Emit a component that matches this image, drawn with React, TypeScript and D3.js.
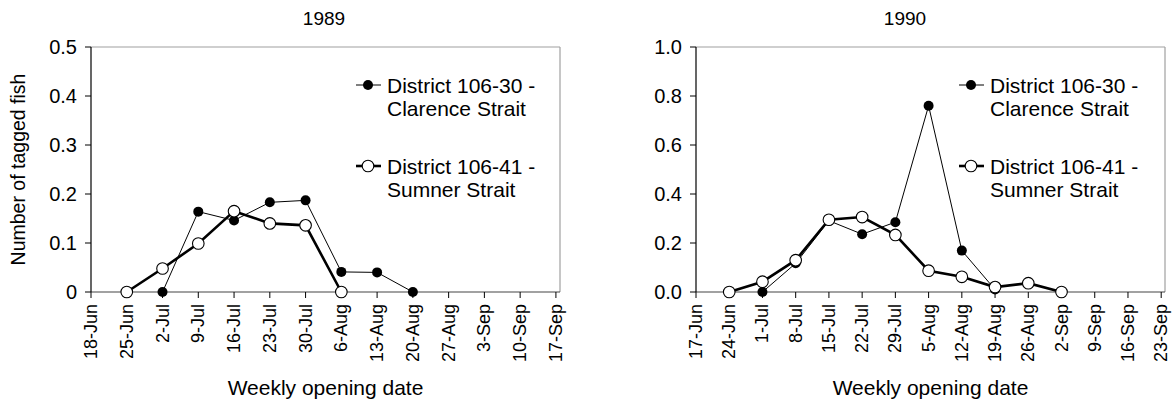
import React from "react";
import * as d3 from "d3";

// ---- Data ----
const ticks1989 = ["1989-06-18","1989-06-25","1989-07-02","1989-07-09","1989-07-16","1989-07-23","1989-07-30","1989-08-06","1989-08-13","1989-08-20","1989-08-27","1989-09-03","1989-09-10","1989-09-17"];
const clarenceDates1989 = ["1989-07-02","1989-07-09","1989-07-16","1989-07-23","1989-07-30","1989-08-06","1989-08-13","1989-08-20"];
const clarenceValues1989 = [0, 0.164, 0.146, 0.183, 0.187, 0.041, 0.040, 0];
const sumnerDates1989 = ["1989-06-25","1989-07-02","1989-07-09","1989-07-16","1989-07-23","1989-07-30","1989-08-06"];
const sumnerValues1989 = [0, 0.048, 0.099, 0.165, 0.140, 0.136, 0];

const ticks1990 = ["1990-06-17","1990-06-24","1990-07-01","1990-07-08","1990-07-15","1990-07-22","1990-07-29","1990-08-05","1990-08-12","1990-08-19","1990-08-26","1990-09-02","1990-09-09","1990-09-16","1990-09-23"];
const clarenceDates1990 = ["1990-07-01","1990-07-08","1990-07-15","1990-07-22","1990-07-29","1990-08-05","1990-08-12","1990-08-19"];
const clarenceValues1990 = [0, 0.117, 0.291, 0.236, 0.285, 0.760, 0.169, 0.010];
const sumnerDates1990 = ["1990-06-24","1990-07-01","1990-07-08","1990-07-15","1990-07-22","1990-07-29","1990-08-05","1990-08-12","1990-08-19","1990-08-26","1990-09-02"];
const sumnerValues1990 = [0, 0.042, 0.130, 0.295, 0.306, 0.233, 0.087, 0.062, 0.020, 0.036, 0];

const yTicks1989 = [0, 0.1, 0.2, 0.3, 0.4, 0.5];
const yTicks1990 = [0, 0.2, 0.4, 0.6, 0.8, 1.0];

const legendLabels = [
  ["District 106-30 -", "Clarence Strait"],
  ["District 106-41 -", "Sumner Strait"],
];

const parse = d3.timeParse("%Y-%m-%d");
const fmt = d3.timeFormat("%-d-%b");
const FONT = "'Liberation Sans', Arial, sans-serif";

type PanelProps = {
  title: string;
  titleX: number;
  left: number;
  right: number;
  ticks: string[];
  yMax: number;
  yTicks: number[];
  yFmt: (v: number) => string;
  cDates: string[];
  cVals: number[];
  sDates: string[];
  sVals: number[];
  legendX: number;
  showYTitle?: boolean;
};

const TOP = 47;
const BOTTOM = 292;

function Panel(p: PanelProps) {
  const tickDates = p.ticks.map((t) => parse(t)!);
  const start = tickDates[0];
  const end = new Date(tickDates[tickDates.length - 1].getTime() + 0.8 * 86400000);
  const x = d3.scaleTime().domain([start, end]).range([p.left, p.right]);
  const y = d3.scaleLinear().domain([0, p.yMax]).range([BOTTOM, TOP]);
  const line = d3
    .line<[Date, number]>()
    .x((d) => x(d[0]))
    .y((d) => y(d[1]));
  const cData: [Date, number][] = p.cDates.map((d, i) => [parse(d)!, p.cVals[i]]);
  const sData: [Date, number][] = p.sDates.map((d, i) => [parse(d)!, p.sVals[i]]);
  const midX = (p.left + p.right) / 2;
  const lx = p.legendX;
  const legY = [85, 166];
  return (
    <g>
      <text x={p.titleX} y={18} textAnchor="middle" dominantBaseline="central" fontSize={19} fontFamily={FONT}>
        {p.title}
      </text>
      {/* frame */}
      <line x1={p.left} x2={p.right} y1={TOP} y2={TOP} stroke="#a0a0a0" strokeWidth={1.2} />
      <line x1={p.right} x2={p.right} y1={TOP} y2={BOTTOM} stroke="#a0a0a0" strokeWidth={1.2} />
      <line x1={p.left} x2={p.right} y1={BOTTOM} y2={BOTTOM} stroke="#444" strokeWidth={1.2} />
      <line x1={p.left} x2={p.left} y1={TOP} y2={BOTTOM} stroke="#000" strokeWidth={1.2} />
      {/* y ticks */}
      {p.yTicks.map((t) => (
        <g key={"y" + t}>
          <line x1={p.left - 6} x2={p.left} y1={y(t)} y2={y(t)} stroke="#000" strokeWidth={1} />
          <text x={p.left - 14} y={y(t)} textAnchor="end" dominantBaseline="central" fontSize={20} fontFamily={FONT}>
            {p.yFmt(t)}
          </text>
        </g>
      ))}
      {/* x ticks */}
      {tickDates.map((d, i) => (
        <g key={"x" + i}>
          <line x1={x(d)} x2={x(d)} y1={BOTTOM} y2={BOTTOM + 6} stroke="#000" strokeWidth={1} />
          <text
            transform={`translate(${x(d)},${BOTTOM + 12}) rotate(-90)`}
            textAnchor="end"
            dominantBaseline="central"
            fontSize={18}
            fontFamily={FONT}
          >
            {fmt(d)}
          </text>
        </g>
      ))}
      <text x={midX} y={387} textAnchor="middle" dominantBaseline="central" fontSize={21} fontFamily={FONT}>
        Weekly opening date
      </text>
      {p.showYTitle && (
        <text
          transform={`translate(18,${(TOP + BOTTOM) / 2}) rotate(-90)`}
          textAnchor="middle"
          dominantBaseline="central"
          fontSize={19.5}
          fontFamily={FONT}
        >
          Number of tagged fish
        </text>
      )}
      {/* series */}
      <path d={line(cData) || ""} fill="none" stroke="#000" strokeWidth={1} />
      <path d={line(sData) || ""} fill="none" stroke="#000" strokeWidth={2.6} />
      {cData.map((d, i) => (
        <circle key={"c" + i} cx={x(d[0])} cy={y(d[1])} r={5} fill="#000" />
      ))}
      {sData.map((d, i) => (
        <circle key={"s" + i} cx={x(d[0])} cy={y(d[1])} r={5.8} fill="#fff" stroke="#000" strokeWidth={1.1} />
      ))}
      {/* legend */}
      <line x1={lx - 31} x2={lx - 6} y1={legY[0]} y2={legY[0]} stroke="#000" strokeWidth={1} />
      <circle cx={lx - 19} cy={legY[0]} r={5} fill="#000" />
      <line x1={lx - 31} x2={lx - 6} y1={legY[1]} y2={legY[1]} stroke="#000" strokeWidth={2.6} />
      <circle cx={lx - 19} cy={legY[1]} r={5.8} fill="#fff" stroke="#000" strokeWidth={1.1} />
      {legendLabels.map((lines, i) => (
        <text key={"l" + i} fontSize={21} fontFamily={FONT}>
          <tspan x={lx} y={legY[i]} dominantBaseline="central">{lines[0]}</tspan>
          <tspan x={lx} y={legY[i] + 23} dominantBaseline="central">{lines[1]}</tspan>
        </text>
      ))}
    </g>
  );
}

export default function App() {
  return (
    <svg width={1174} height={402} style={{ display: "block", position: "absolute", left: 0, top: 0, background: "#fff" }}>
      <Panel
        title="1989"
        titleX={324}
        left={91}
        right={560}
        ticks={ticks1989}
        yMax={0.5}
        yTicks={yTicks1989}
        yFmt={(v) => (v === 0 ? "0" : d3.format(".1f")(v))}
        cDates={clarenceDates1989}
        cVals={clarenceValues1989}
        sDates={sumnerDates1989}
        sVals={sumnerValues1989}
        legendX={387}
        showYTitle
      />
      <Panel
        title="1990"
        titleX={905}
        left={696}
        right={1165}
        ticks={ticks1990}
        yMax={1.0}
        yTicks={yTicks1990}
        yFmt={(v) => d3.format(".1f")(v)}
        cDates={clarenceDates1990}
        cVals={clarenceValues1990}
        sDates={sumnerDates1990}
        sVals={sumnerValues1990}
        legendX={990}
      />
    </svg>
  );
}
